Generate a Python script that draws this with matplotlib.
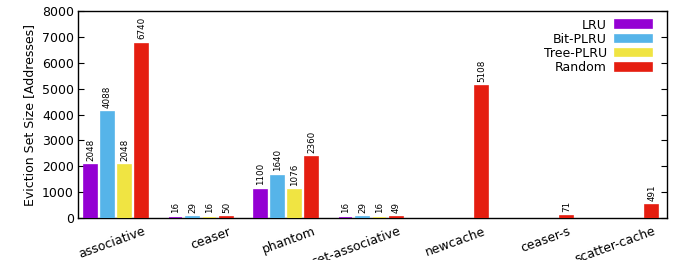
import numpy as np
import matplotlib
matplotlib.use("Agg")
import matplotlib.pyplot as plt
import matplotlib.transforms as mtransforms

# categories and values (NaN = no bar)
categories = ["associative", "ceaser", "phantom", "set-associative",
              "newcache", "ceaser-s", "scatter-cache"]
policies = ["LRU", "Bit-PLRU", "Tree-PLRU", "Random"]
lru = [2048, 16, 1100, 16, np.nan, np.nan, np.nan]
bit_plru = [4088, 29, 1640, 29, np.nan, np.nan, np.nan]
tree_plru = [2048, 16, 1076, 16, np.nan, np.nan, np.nan]
random = [6740, 50, 2360, 49, 5108, 71, 491]
series = [lru, bit_plru, tree_plru, random]
colors = ["#9400d3", "#56b4e9", "#f0e442", "#e51e10"]

fig = plt.figure(figsize=(6.78, 2.6), dpi=100)
ax = fig.add_axes([78 / 678, 1 - 218 / 260, (667 - 78) / 678, (218 - 11) / 260])

x = np.arange(len(categories))
slot = 0.2
width = 0.155

for i, (vals, name, col) in enumerate(zip(series, policies, colors)):
    pos = x - 0.3 + i * slot
    v = np.array(vals, dtype=float)
    mask = ~np.isnan(v)
    # bars sit above the spine so the tiny ones still show as a coloured line
    ax.bar(pos[mask], v[mask], width=width, color=col, edgecolor=col,
           linewidth=1.2, label=name, zorder=3)
    for px, pv in zip(pos[mask], v[mask]):
        ax.annotate(str(int(pv)), (px, pv), xytext=(0, 3),
                    textcoords="offset points", rotation=90,
                    ha="center", va="bottom", fontsize=6.3)

ax.set_xlim(-0.447, 6.48)
ax.set_ylim(0, 8000)
ax.set_yticks(np.arange(0, 8001, 1000))
ax.tick_params(axis="y", direction="in", length=4, right=True, labelsize=9, pad=3)
ax.tick_params(axis="x", length=0, labelsize=9, pad=5)
ax.set_xticks(x)
ax.set_xticklabels(categories, rotation=20, ha="right", rotation_mode="anchor")
shift = mtransforms.ScaledTranslation(27 / 100, 0, fig.dpi_scale_trans)
for lab in ax.get_xticklabels():
    lab.set_transform(lab.get_transform() + shift)

ax.set_ylabel("Eviction Set Size [Addresses]", fontsize=9)
for sp in ax.spines.values():
    sp.set_linewidth(1)

ax.legend(loc="upper right", bbox_to_anchor=(1 - 10 / 589, 1 - 2.5 / 207),
          frameon=False, markerfirst=False, fontsize=9,
          handlelength=3.0, handleheight=0.55, labelspacing=0.1,
          handletextpad=0.6, borderaxespad=0)

fig.savefig("out.png", dpi=100)
